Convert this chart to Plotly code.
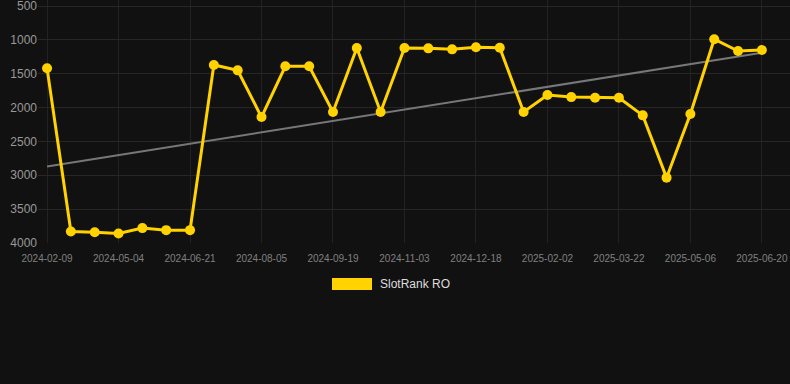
import numpy as np
import plotly.graph_objects as go

dates = [
    "2024-02-09", "2024-04-04", "2024-04-19", "2024-05-04", "2024-05-20",
    "2024-06-05", "2024-06-21", "2024-07-06", "2024-07-21", "2024-08-05",
    "2024-08-20", "2024-09-04", "2024-09-19", "2024-10-04", "2024-10-19",
    "2024-11-03", "2024-11-18", "2024-12-03", "2024-12-18", "2025-01-02",
    "2025-01-17", "2025-02-02", "2025-02-18", "2025-03-06", "2025-03-22",
    "2025-04-06", "2025-04-21", "2025-05-06", "2025-05-21", "2025-06-05",
    "2025-06-20",
]
ranks = [
    1420, 3830, 3840, 3860, 3780, 3810, 3810, 1370, 1450, 2140,
    1390, 1390, 2065, 1120, 2065, 1120, 1125, 1140, 1110, 1115,
    2065, 1815, 1845, 1855, 1855, 2115, 3035, 2095, 990, 1165,
    1150,
]
y_ticks = [500, 1000, 1500, 2000, 2500, 3000, 3500, 4000]
series_name = "SlotRank RO"

idx = np.arange(len(ranks))
slope, intercept = np.polyfit(idx, ranks, 1)
trend = slope * idx + intercept

fig = go.Figure()
fig.add_trace(go.Scatter(
    x=dates, y=trend, mode="lines",
    line=dict(color="#777777", width=2),
    showlegend=False, hoverinfo="skip",
))
fig.add_trace(go.Scatter(
    x=dates, y=ranks, mode="lines+markers", name=series_name,
    line=dict(color="#FFD200", width=3),
    marker=dict(color="#FFD200", size=10),
    showlegend=False,
))

fig.update_layout(
    width=790, height=384,
    paper_bgcolor="#111111", plot_bgcolor="#111111",
    margin=dict(l=38, r=0, t=0, b=141),
    font=dict(family="Arial, Liberation Sans, sans-serif"),
    xaxis=dict(
        type="category",
        range=[-0.38, 31.18],
        tickvals=dates[::3],
        ticktext=dates[::3],
        tickfont=dict(size=10, color="#808080"),
        ticklabeloverflow="allow",
        ticklabelstandoff=8,
        showgrid=True, gridcolor="#222222", gridwidth=1,
        zeroline=False, showline=False, ticks="",
    ),
    yaxis=dict(
        range=[4000, 411],
        tickvals=y_ticks,
        tickfont=dict(size=12, color="#999999"),
        ticklabeloverflow="allow",
        showgrid=True, gridcolor="#262626", gridwidth=1,
        zeroline=False, showline=False, ticks="",
    ),
    shapes=[dict(
        type="rect", xref="paper", yref="paper",
        x0=(332 - 38) / 752, x1=(372 - 38) / 752,
        y0=(243 - 290) / 243, y1=(243 - 278) / 243,
        fillcolor="#FFD200", line=dict(width=0),
    )],
    annotations=[dict(
        text=series_name, xref="paper", yref="paper",
        x=(378 - 38) / 752, y=(243 - 284) / 243,
        xanchor="left", yanchor="middle", showarrow=False,
        font=dict(size=12, color="#DDDDDD"),
    )],
)

fig.write_html(
    "out.html",
    config={"displayModeBar": False},
    post_script="document.body.style.margin='0';document.body.style.background='#111111';",
)
